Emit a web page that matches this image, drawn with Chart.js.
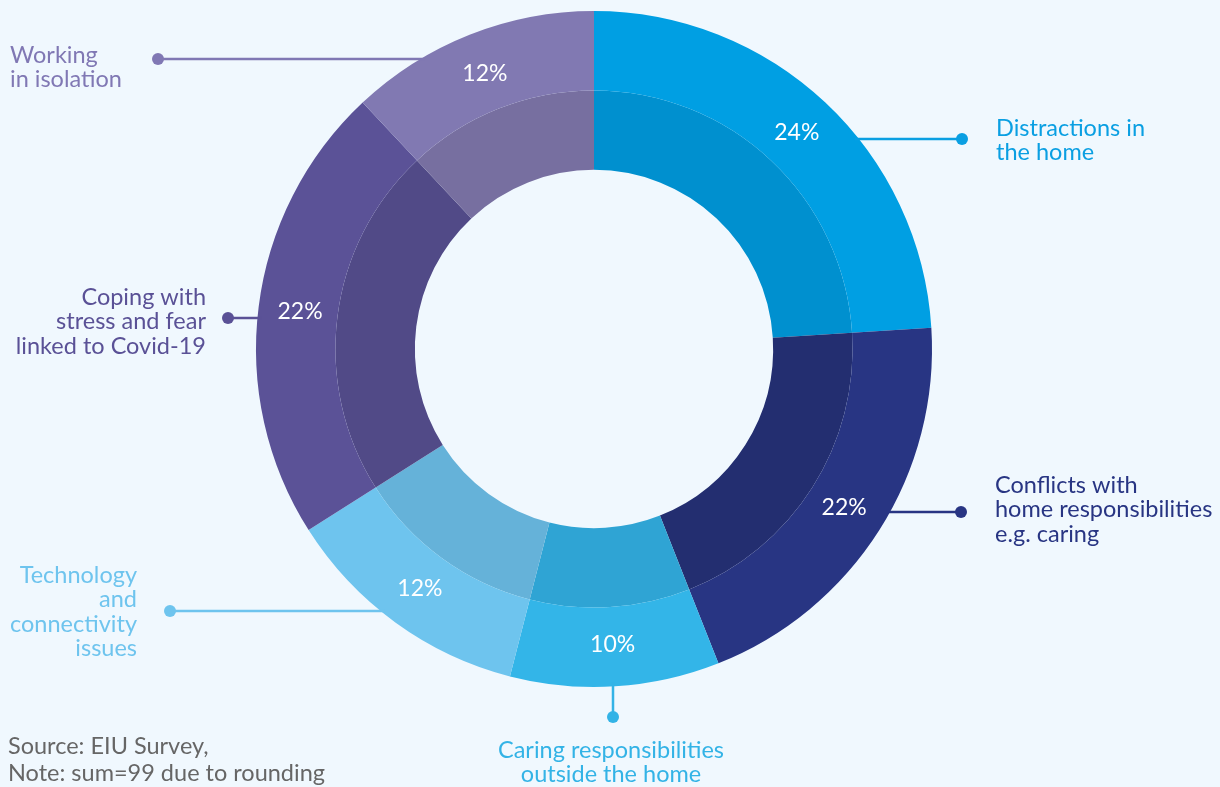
<!DOCTYPE html>
<html>
<head>
<meta charset="utf-8">
<script src="https://cdn.jsdelivr.net/npm/chart.js@4"></script>
<style>
  html, body { margin: 0; padding: 0; background: #f0f8fe; }
  #wrap { position: relative; width: 1220px; height: 787px; }
</style>
</head>
<body>
<div id="wrap"><canvas id="challengesChart" width="1220" height="787"></canvas></div>
<script>
/* Challenges of working from home - two-tone doughnut */

const categories = [
    'Distractions in the home',
    'Conflicts with home responsibilities e.g. caring',
    'Caring responsibilities outside the home',
    'Technology and connectivity issues',
    'Coping with stress and fear linked to Covid-19',
    'Working in isolation'
];
// slice sizes as drawn in the picture (%)
const shares = [24, 20, 10, 12, 22, 12];
// values printed on the slices
const shareLabels = ['24%', '22%', '10%', '12%', '22%', '12%'];

const outerColors = ['#009fe3', '#283583', '#33b5e8', '#6ec4ee', '#5b5297', '#8179b2'];
const innerColors = ['#0090cf', '#232e70', '#2fa4d4', '#65b2d9', '#514a87', '#776fa0'];
const textColors = ['#0a9fe2', '#283583', '#33b3e6', '#6ec4ee', '#5a5196', '#8078b4'];

const FONT = 'Lato, "Open Sans", sans-serif';

// callout placement (layout only)
const callouts = [
    { lines: ['Distractions in', 'the home'], x: 996, y: 136, align: 'left', dot: [962, 139], dir: 'right' },
    { lines: ['Conflicts with', 'home responsibilities', 'e.g. caring'], x: 995, y: 493, align: 'left', dot: [961, 512], dir: 'right' },
    { lines: ['Caring responsibilities', 'outside the home'], x: 611, y: 758, align: 'center', dot: [613, 717], dir: 'down' },
    { lines: ['Technology', 'and', 'connectivity', 'issues'], x: 137, y: 583, align: 'right', dot: [170, 611], dir: 'left' },
    { lines: ['Coping with', 'stress and fear', 'linked to Covid-19'], x: 206, y: 305, align: 'right', dot: [228, 318], dir: 'left' },
    { lines: ['Working', 'in isolation'], x: 10, y: 63, align: 'left', dot: [158, 59], dir: 'left' }
];

const calloutPlugin = {
    id: 'callouts',
    afterDraw(chart) {
        const ctx = chart.ctx;
        const meta = chart.getDatasetMeta(0);
        ctx.save();

        // percentages on the outer ring
        ctx.font = '23px ' + FONT;
        ctx.fillStyle = '#ffffff';
        ctx.textAlign = 'center';
        ctx.textBaseline = 'middle';
        meta.data.forEach((arc, i) => {
            const p = arc.getProps(['x', 'y', 'startAngle', 'endAngle', 'innerRadius', 'outerRadius'], true);
            const mid = (p.startAngle + p.endAngle) / 2;
            const r = (p.innerRadius + p.outerRadius) / 2 - 2;
            ctx.fillText(shareLabels[i], p.x + Math.cos(mid) * r, p.y + Math.sin(mid) * r);
        });

        // leader lines, dots and category labels
        const first = meta.data[0].getProps(['x', 'y', 'outerRadius'], true);
        const cx = first.x, cy = first.y, R = first.outerRadius;
        callouts.forEach((c, i) => {
            const [dx, dy] = c.dot;
            ctx.strokeStyle = textColors[i];
            ctx.fillStyle = textColors[i];
            ctx.lineWidth = 2.5;
            ctx.beginPath();
            ctx.moveTo(dx, dy);
            if (c.dir === 'down') {
                ctx.lineTo(dx, cy + Math.sqrt(R * R - (dx - cx) * (dx - cx)) - 4);
            } else {
                const half = Math.sqrt(R * R - (dy - cy) * (dy - cy));
                ctx.lineTo(c.dir === 'right' ? cx + half - 4 : cx - half + 4, dy);
            }
            ctx.stroke();
            ctx.beginPath();
            ctx.arc(dx, dy, 6, 0, Math.PI * 2);
            ctx.fill();

            ctx.font = '23.5px ' + FONT;
            ctx.textAlign = c.align;
            ctx.textBaseline = 'alphabetic';
            c.lines.forEach((line, k) => {
                ctx.fillText(line, c.x, c.y + k * 24.3);
            });
        });

        // source note
        ctx.font = '23.5px ' + FONT;
        ctx.fillStyle = '#666666';
        ctx.textAlign = 'left';
        ctx.fillText('Source: EIU Survey,', 8, 754);
        ctx.fillText('Note: sum=99 due to rounding', 8, 781);

        ctx.restore();
    }
};

const createChallengesChart = () => {
    const ctx = document.getElementById('challengesChart').getContext('2d');
    return new Chart(ctx, {
        type: 'doughnut',
        data: {
            labels: categories,
            datasets: [
                {
                    label: 'Outer',
                    data: shares,
                    backgroundColor: outerColors,
                    borderWidth: 0
                },
                {
                    label: 'Inner',
                    data: shares,
                    backgroundColor: innerColors,
                    borderWidth: 0
                }
            ]
        },
        options: {
            responsive: false,
            animation: false,
            cutout: '53%',
            layout: { padding: { left: 256, right: 288, top: 11, bottom: 100 } },
            plugins: {
                legend: { display: false },
                tooltip: { enabled: false }
            }
        },
        plugins: [calloutPlugin]
    });
};

createChallengesChart();
</script>
</body>
</html>
